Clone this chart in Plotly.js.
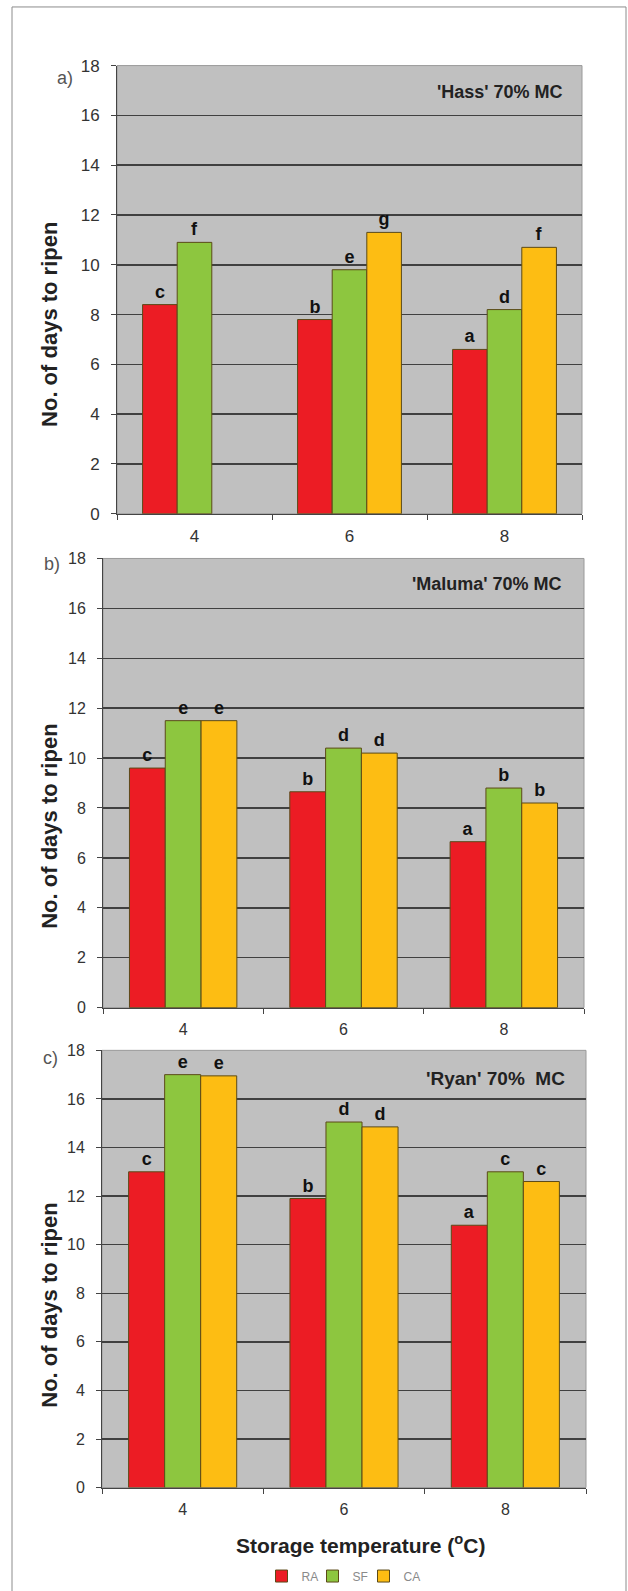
<!DOCTYPE html>
<html>
<head>
<meta charset="utf-8">
<script src="https://cdn.plot.ly/plotly-3.0.1.min.js"></script>
<style>
html,body{margin:0;padding:0;background:#fff;}
#chart{width:628px;height:1591px;}
</style>
</head>
<body>
<div id="chart"></div>
<script>
// ---- data ----
const temps = ['4', '6', '8'];
const seriesNames = ['RA', 'SF', 'CA'];

const hassRA = [8.4, 7.8, 6.6];
const hassSF = [10.9, 9.8, 8.2];
const hassCA = [null, 11.3, 10.7];
const hassRAlet = ['c', 'b', 'a'];
const hassSFlet = ['f', 'e', 'd'];
const hassCAlet = [null, 'g', 'f'];

const malumaRA = [9.6, 8.65, 6.65];
const malumaSF = [11.5, 10.4, 8.8];
const malumaCA = [11.5, 10.2, 8.2];
const malumaRAlet = ['c', 'b', 'a'];
const malumaSFlet = ['e', 'd', 'b'];
const malumaCAlet = ['e', 'd', 'b'];

const ryanRA = [13.0, 11.9, 10.8];
const ryanSF = [17.0, 15.05, 13.0];
const ryanCA = [16.95, 14.85, 12.6];
const ryanRAlet = ['c', 'b', 'a'];
const ryanSFlet = ['e', 'd', 'c'];
const ryanCAlet = ['e', 'd', 'c'];

const panelTitles = ["'Hass' 70% MC", "'Maluma' 70% MC", "'Ryan' 70%  MC"];
const panelLabels = ['a)', 'b)', 'c)'];
const yTitle = 'No. of days to ripen';
const xTitle = 'Storage temperature (<sup>o</sup>C)';
const yTicks = [0, 2, 4, 6, 8, 10, 12, 14, 16, 18];

// ---- style ----
const colors = ['#EC1C24', '#8DC63F', '#FDBD13'];
const legendWidths = [6, 6, 22];
const FONT = 'Liberation Sans, Arial, sans-serif';
const W = 628, H = 1591;
const px = v => v / W;
const py = v => 1 - v / H;

const panels = [
  {RA: hassRA, SF: hassSF, CA: hassCA, L: [hassRAlet, hassSFlet, hassCAlet], x: [117, 582], y: [66, 517], tick: 17, ttl: 18, ttlx: -17, ttly: -26, ytx: 50, yty: 327, lab: [65, 78]},
  {RA: malumaRA, SF: malumaSF, CA: malumaCA, L: [malumaRAlet, malumaSFlet, malumaCAlet], x: [103, 584], y: [562, 1014], tick: 16, ttl: 18, ttlx: -20, ttly: -26, ytx: 50, yty: 832, lab: [52, 568]},
  {RA: ryanRA, SF: ryanSF, CA: ryanCA, L: [ryanRAlet, ryanSFlet, ryanCAlet], x: [102, 586], y: [1057, 1497], tick: 16, ttl: 19, ttlx: -19, ttly: -28, ytx: 50, yty: 1314, lab: [50, 1065]}
];

const traces = [];
const layout = {
  width: W, height: H,
  margin: {l: 0, r: 0, t: 0, b: 0},
  paper_bgcolor: '#ffffff',
  plot_bgcolor: 'rgba(0,0,0,0)',
  barmode: 'group',
  bargap: 0.33,
  bargroupgap: 0,
  font: {family: FONT, color: '#333'},
  showlegend: true,
  legend: {
    orientation: 'h', x: 346 / W, xanchor: 'center', y: py(1586), yanchor: 'middle',
    font: {family: FONT, size: 12, color: '#8a8a8a'},
    itemwidth: 30, tracegroupgap: 0, bgcolor: 'rgba(0,0,0,0)'
  },
  annotations: [],
  shapes: [
    {type: 'rect', xref: 'paper', yref: 'paper', x0: px(12), x1: px(626), y0: -0.02, y1: py(7),
     line: {color: '#8c8c8c', width: 1}, fillcolor: 'rgba(0,0,0,0)', layer: 'below'}
  ]
};

panels.forEach((p, i) => {
  const n = i + 1;
  const xa = n === 1 ? 'x' : 'x' + n;
  const ya = n === 1 ? 'y' : 'y' + n;
  const vals = [p.RA, p.SF, p.CA];
  vals.forEach((v, k) => {
    traces.push({
      type: 'bar', x: temps, y: v, name: seriesNames[k],
      xaxis: xa, yaxis: ya,
      legendgroup: seriesNames[k], showlegend: i === 0, legendwidth: legendWidths[k],
      marker: {color: colors[k], line: {color: '#5b4a18', width: 1}},
      text: p.L[k], textposition: 'outside', cliponaxis: false,
      textfont: {family: FONT, size: 18, color: '#111', weight: 'bold'},
      hoverinfo: 'x+y'
    });
  });
  const xKey = n === 1 ? 'xaxis' : 'xaxis' + n;
  const yKey = n === 1 ? 'yaxis' : 'yaxis' + n;
  layout[xKey] = {
    domain: [px(p.x[0]), px(p.x[1])], anchor: ya, type: 'category',
    showgrid: false, zeroline: false,
    showline: true, linecolor: '#444', linewidth: 1,
    ticks: 'outside', ticklen: 5, tickcolor: '#444', tickson: 'boundaries',
    tickfont: {family: FONT, size: p.tick, color: '#333'},
    ticklabelstandoff: 7, fixedrange: true
  };
  layout[yKey] = {
    domain: [py(p.y[1]), py(p.y[0])], anchor: xa,
    range: [0, 18], tickvals: yTicks,
    showgrid: true, gridcolor: '#404040', gridwidth: 1.5,
    zeroline: false, showline: true, linecolor: '#444', linewidth: 1,
    ticks: 'outside', ticklen: 5, tickcolor: '#444',
    tickfont: {family: FONT, size: p.tick, color: '#333'},
    ticklabelstandoff: 8, fixedrange: true
  };
  // plot area background + light border for each panel
  layout.shapes.push({
    type: 'rect', xref: xa + ' domain', yref: ya + ' domain', x0: 0, x1: 1, y0: 0, y1: 1,
    fillcolor: '#C0C0C0', line: {color: '#9a9a9a', width: 1}, layer: 'below'
  });
  layout.annotations.push({
    text: '<b>' + panelTitles[i] + '</b>', xref: xa + ' domain', yref: ya + ' domain',
    x: 1, y: 1, xanchor: 'right', yanchor: 'middle', xshift: p.ttlx, yshift: p.ttly,
    showarrow: false, font: {family: FONT, size: p.ttl, color: '#222'}
  });
  layout.annotations.push({
    text: '<b>' + yTitle + '</b>', xref: 'paper', yref: 'paper',
    x: px(p.ytx), y: py(p.yty), xanchor: 'center', yanchor: 'middle', textangle: -90,
    showarrow: false, font: {family: FONT, size: 22, color: '#222'}
  });
  layout.annotations.push({
    text: panelLabels[i], xref: 'paper', yref: 'paper',
    x: px(p.lab[0]), y: py(p.lab[1]), xanchor: 'center', yanchor: 'middle',
    showarrow: false, font: {family: FONT, size: 18, color: '#555'}
  });
});

layout.annotations.push({
  text: '<b>' + xTitle + '</b>', xref: 'paper', yref: 'paper',
  x: px(360), y: py(1554), xanchor: 'center', yanchor: 'middle',
  showarrow: false, font: {family: FONT, size: 21, color: '#222'}
});

Plotly.newPlot('chart', traces, layout, {displayModeBar: false, staticPlot: true});
</script>
</body>
</html>
